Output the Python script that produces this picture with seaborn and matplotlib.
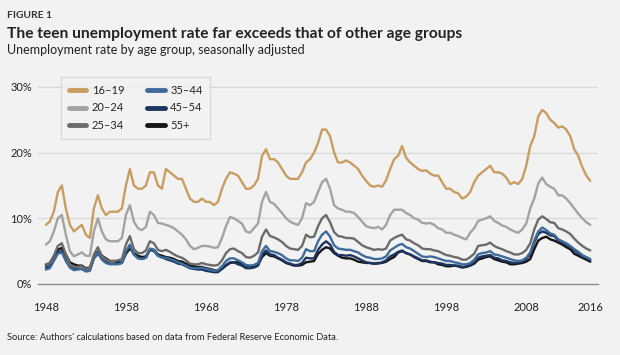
import matplotlib
matplotlib.use("Agg")
import matplotlib.pyplot as plt
import numpy as np
import pandas as pd
import seaborn as sns

# half-year points, Jan 1948 to Jan 2016
years = np.arange(1948.0, 2016.01, 0.5)

teen_16_19 = [9.0, 9.5, 11.0, 14.0, 15.0, 11.5, 9.0, 8.0, 8.5, 9.0, 7.5, 7.0, 11.5, 13.5,
              11.5, 10.5, 11.0, 11.0, 11.0, 11.5, 15.0, 17.5, 15.0, 14.5, 14.5, 15.0, 17.0, 17.0,
              15.0, 14.5, 17.5, 17.0, 16.5, 16.0, 16.0, 14.5, 13.0, 12.5, 12.5, 13.0, 12.5, 12.5,
              12.0, 12.5, 14.5, 16.0, 17.0, 16.8, 16.5, 15.5, 14.5, 14.5, 15.0, 16.0, 19.5, 20.5,
              19.0, 19.0, 18.5, 17.5, 16.5, 16.0, 16.0, 16.0, 17.0, 18.5, 19.0, 20.0, 21.5, 23.5,
              23.5, 22.5, 20.0, 18.5, 18.5, 18.8, 18.5, 18.0, 17.5, 16.5, 15.7, 15.0, 14.8, 15.0,
              14.8, 15.8, 17.5, 19.0, 19.5, 21.0, 19.2, 18.5, 18.0, 17.5, 17.2, 17.3, 16.8, 16.5,
              16.5, 15.5, 14.5, 14.5, 14.0, 13.8, 13.0, 13.3, 14.0, 15.5, 16.5, 17.0, 17.5, 18.0,
              17.0, 17.0, 16.8, 16.2, 15.2, 15.5, 15.2, 16.0, 18.0, 21.0, 22.5, 25.5, 26.5, 26.0,
              25.0, 24.5, 23.8, 24.0, 23.5, 22.5, 20.5, 19.5, 17.8, 16.5, 15.7]

age_20_24 = [6.0, 6.5, 8.0, 10.0, 10.5, 7.5, 5.0, 4.2, 4.5, 4.8, 4.3, 4.3, 8.0, 10.0,
             8.0, 6.8, 6.5, 6.5, 6.5, 7.0, 10.5, 12.0, 9.5, 8.5, 8.2, 8.7, 11.0, 10.5,
             9.3, 9.2, 9.0, 8.8, 8.5, 8.0, 7.5, 6.8, 5.8, 5.3, 5.5, 5.8, 5.8, 5.7,
             5.5, 5.6, 7.0, 8.8, 10.2, 10.0, 9.6, 9.2, 8.0, 7.8, 8.5, 9.2, 12.5, 14.0,
             12.5, 12.2, 11.5, 10.8, 10.0, 9.5, 9.2, 9.0, 10.0, 12.3, 12.0, 12.5, 14.0, 15.5,
             16.0, 14.5, 12.0, 11.5, 11.3, 11.0, 11.0, 10.8, 10.2, 9.5, 8.8, 8.6, 8.5, 8.7,
             8.3, 9.0, 10.5, 11.3, 11.3, 11.3, 10.8, 10.5, 10.0, 9.8, 9.3, 9.2, 9.3, 9.0,
             8.5, 8.3, 7.8, 7.8, 7.5, 7.3, 7.0, 6.8, 7.8, 8.5, 9.6, 9.8, 10.0, 10.3,
             9.6, 9.3, 8.9, 8.7, 8.3, 8.0, 7.8, 8.3, 9.2, 11.5, 13.0, 15.3, 16.2, 15.2,
             14.8, 14.5, 13.5, 13.5, 13.0, 12.3, 11.5, 10.7, 10.0, 9.4, 9.0]

age_25_34 = [3.0, 3.2, 4.3, 5.8, 6.2, 4.5, 3.0, 2.6, 2.6, 2.7, 2.3, 2.4, 4.5, 5.6,
             4.3, 3.7, 3.5, 3.5, 3.6, 3.8, 6.0, 7.3, 5.3, 4.7, 4.7, 5.1, 6.5, 6.2,
             5.2, 5.0, 5.2, 4.9, 4.5, 4.2, 4.0, 3.6, 3.1, 3.0, 3.0, 3.2, 3.0, 2.9,
             2.8, 2.9, 3.6, 4.7, 5.3, 5.4, 5.0, 4.7, 4.1, 4.0, 4.3, 4.8, 7.2, 8.3,
             7.3, 7.1, 6.8, 6.4, 5.8, 5.4, 5.3, 5.2, 5.8, 7.5, 7.1, 7.2, 8.8, 10.0,
             10.5, 9.4, 7.9, 7.3, 7.2, 7.0, 7.0, 6.9, 6.4, 5.9, 5.6, 5.4, 5.2, 5.3,
             5.2, 5.4, 6.6, 7.0, 7.3, 7.5, 6.8, 6.6, 6.2, 5.9, 5.4, 5.3, 5.3, 5.1,
             5.0, 4.7, 4.4, 4.3, 4.1, 4.0, 3.7, 3.7, 4.1, 4.6, 5.8, 5.9, 6.0, 6.3,
             5.8, 5.5, 5.3, 5.0, 4.8, 4.5, 4.5, 4.7, 5.2, 6.2, 8.3, 9.8, 10.3, 9.9,
             9.4, 9.3, 8.5, 8.3, 8.0, 7.6, 6.9, 6.3, 5.8, 5.4, 5.1]

age_35_44 = [2.2, 2.4, 3.5, 4.6, 4.8, 3.5, 2.5, 2.1, 2.2, 2.3, 1.9, 2.0, 3.9, 4.8,
             3.7, 3.2, 3.0, 3.0, 3.0, 3.2, 5.0, 6.0, 4.5, 3.9, 3.8, 4.0, 5.4, 5.2,
             4.3, 4.0, 4.0, 3.8, 3.6, 3.3, 3.1, 2.8, 2.5, 2.4, 2.4, 2.5, 2.3, 2.2,
             2.0, 2.1, 2.7, 3.5, 3.9, 3.9, 3.6, 3.3, 2.9, 2.8, 2.9, 3.2, 5.0, 5.8,
             5.0, 4.9, 4.7, 4.4, 3.9, 3.6, 3.6, 3.5, 4.0, 5.3, 5.0, 5.0, 6.5, 7.5,
             8.0, 7.2, 5.9, 5.4, 5.3, 5.2, 5.2, 5.0, 4.8, 4.4, 4.1, 4.0, 3.8, 3.8,
             3.9, 4.2, 5.1, 5.5, 5.9, 6.1, 5.6, 5.4, 5.0, 4.6, 4.2, 4.1, 4.2, 4.1,
             3.9, 3.7, 3.5, 3.5, 3.3, 3.2, 3.0, 3.0, 3.2, 3.7, 4.5, 4.7, 4.8, 5.0,
             4.5, 4.4, 4.2, 4.0, 3.8, 3.6, 3.5, 3.6, 4.0, 4.8, 6.6, 8.0, 8.6, 8.2,
             7.7, 7.5, 6.8, 6.5, 6.2, 5.8, 5.3, 4.9, 4.4, 4.1, 3.8]

age_45_54 = [2.5, 2.7, 3.8, 4.8, 5.0, 3.8, 2.7, 2.4, 2.3, 2.3, 2.0, 2.1, 3.9, 4.6,
             3.9, 3.4, 3.1, 3.1, 3.1, 3.2, 4.8, 5.8, 4.5, 4.0, 3.8, 4.0, 5.2, 5.0,
             4.3, 4.1, 3.8, 3.6, 3.4, 3.1, 3.0, 2.7, 2.4, 2.3, 2.2, 2.2, 2.0, 1.9,
             1.8, 1.8, 2.3, 2.9, 3.3, 3.3, 3.0, 2.8, 2.4, 2.4, 2.5, 2.8, 4.5, 5.1,
             4.5, 4.4, 4.0, 3.7, 3.3, 3.1, 2.9, 2.9, 3.2, 4.0, 3.9, 3.9, 5.2, 6.0,
             6.5, 6.0, 4.9, 4.4, 4.4, 4.3, 4.4, 4.2, 3.9, 3.6, 3.3, 3.2, 3.1, 3.1,
             3.3, 3.6, 4.2, 4.5, 4.9, 5.1, 4.7, 4.5, 4.2, 3.9, 3.6, 3.6, 3.4, 3.3,
             3.2, 3.1, 2.9, 2.9, 2.8, 2.8, 2.6, 2.7, 2.9, 3.3, 4.0, 4.2, 4.3, 4.4,
             4.0, 3.9, 3.6, 3.5, 3.3, 3.2, 3.3, 3.4, 3.8, 4.5, 6.3, 7.6, 8.0, 7.8,
             7.4, 7.3, 6.6, 6.3, 6.0, 5.6, 5.1, 4.7, 4.2, 4.0, 3.6]

age_55_plus = [2.9, 3.2, 4.2, 5.2, 5.5, 4.5, 3.3, 3.0, 2.8, 2.8, 2.4, 2.5, 4.1, 4.9,
               4.3, 3.9, 3.5, 3.5, 3.3, 3.3, 4.6, 5.4, 4.7, 4.3, 4.1, 4.2, 5.3, 5.2,
               4.5, 4.3, 4.1, 4.0, 3.8, 3.5, 3.4, 3.1, 2.8, 2.7, 2.6, 2.6, 2.4, 2.3,
               2.1, 2.0, 2.3, 2.8, 3.2, 3.3, 3.3, 3.1, 2.8, 2.7, 2.6, 2.9, 4.1, 4.7,
               4.3, 4.2, 3.9, 3.6, 3.2, 3.0, 2.8, 2.8, 2.9, 3.3, 3.4, 3.5, 4.6, 5.2,
               5.6, 5.4, 4.7, 4.3, 4.0, 3.9, 3.9, 3.7, 3.4, 3.3, 3.2, 3.2, 3.1, 3.2,
               3.2, 3.4, 3.8, 4.1, 4.8, 5.0, 4.7, 4.5, 4.1, 3.8, 3.5, 3.5, 3.3, 3.3,
               3.0, 2.9, 2.7, 2.7, 2.8, 2.7, 2.5, 2.6, 2.8, 3.1, 3.7, 3.9, 4.1, 4.2,
               3.8, 3.6, 3.4, 3.3, 3.0, 3.0, 3.1, 3.2, 3.4, 3.8, 5.3, 6.6, 7.0, 7.2,
               6.8, 6.6, 6.3, 6.0, 5.6, 5.3, 4.6, 4.3, 4.0, 3.7, 3.4]

groups = ["16\u201319", "20\u201324", "25\u201334", "35\u201344", "45\u201354", "55+"]
colors = ["#c89d62", "#a3a3a3", "#6b6b6b", "#3e6b99", "#1d3560", "#151515"]
tick_years = [1948, 1958, 1968, 1978, 1988, 1998, 2008, 2016]

series = [teen_16_19, age_20_24, age_25_34, age_35_44, age_45_54, age_55_plus]
df = pd.concat(
    [pd.DataFrame({"year": years, "rate": vals, "group": g}) for g, vals in zip(groups, series)],
    ignore_index=True,
)

bg = "#f2f2f2"
sns.set_style("white")
plt.rcParams["font.family"] = ["Lato", "DejaVu Sans"]

fig = plt.figure(figsize=(6.2, 3.55), dpi=100, facecolor=bg)
ax = fig.add_axes([0.061, 0.2, 0.904, 0.583])
ax.set_facecolor(bg)

sns.lineplot(data=df, x="year", y="rate", hue="group", hue_order=groups,
             palette=colors, linewidth=1.7, ax=ax)

# older groups: keep the blues above the black 55+ line
for ln, z in zip(ax.lines[:6], [3.6, 3.5, 3.4, 3.3, 3.2, 3.1]):
    ln.set_zorder(z)

ax.set_xlim(1947, 2017)
ax.set_ylim(0, 31.5)
ax.set_yticks([0, 10, 20, 30])
ax.set_yticklabels(["0%", "10%", "20%", "30%"])
ax.set_xticks(tick_years)
ax.set_xticklabels([str(y) for y in tick_years])
ax.set_xlabel("")
ax.set_ylabel("")
for y in [10, 20, 30]:
    ax.axhline(y, color="#d9d9d9", lw=1, zorder=0)
for s in ["top", "right", "left"]:
    ax.spines[s].set_visible(False)
ax.spines["bottom"].set_color("#8a8a8a")
ax.spines["bottom"].set_linewidth(1)
ax.tick_params(axis="x", length=0, pad=13, labelsize=8, colors="#222222")
ax.tick_params(axis="y", length=0, pad=4, labelsize=8, colors="#222222")

handles, labels = ax.get_legend_handles_labels()
for h in handles:
    h.set_linewidth(3.5)
leg = ax.legend(handles, labels, ncol=2, loc="upper left", bbox_to_anchor=(0.041, 1.0),
                borderaxespad=0, frameon=True, fontsize=8, handlelength=1.6,
                handletextpad=0.5, columnspacing=2.0, labelspacing=0.6,
                borderpad=0.7, fancybox=False)
leg.get_frame().set_facecolor(bg)
leg.get_frame().set_edgecolor("#d4d4d4")
leg.get_frame().set_linewidth(1)
leg.set_zorder(5)

fig.text(0.012, 0.955, "FIGURE 1", fontsize=7.4, fontweight="bold", color="#333333",
         va="center")
fig.text(0.012, 0.905, "The teen unemployment rate far exceeds that of other age groups",
         fontsize=11.2, fontweight="bold", color="#222222", va="center")
fig.text(0.012, 0.858, "Unemployment rate by age group, seasonally adjusted",
         fontsize=9.0, color="#222222", va="center")
fig.text(0.012, 0.048, "Source: Authors' calculations based on data from Federal Reserve Economic Data.",
         fontsize=6.7, color="#222222", va="center")

fig.savefig("out.png", dpi=100, facecolor=bg)
